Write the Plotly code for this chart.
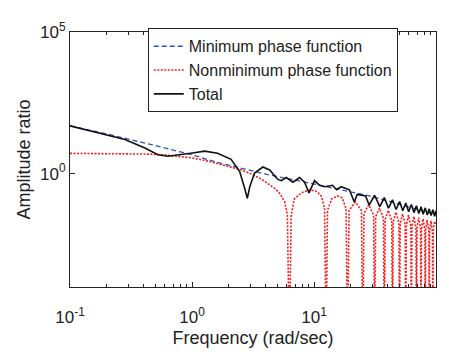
import plotly.graph_objects as go

# ---------------- data ----------------
min_w = [0.1, 0.2, 0.5, 1.0, 1.62, 2.54, 4.16, 9.8, 19.5, 28.5, 50, 100]
min_amp = [48.7, 25.3, 9.8, 4.65, 2.49, 1.53, 0.93, 0.44, 0.238, 0.164, 0.083, 0.0353]

non_w = [0.1, 0.2, 0.3, 0.45, 0.6, 0.8, 1.0, 1.3, 1.62, 2.0, 2.54, 3.1, 3.71, 4.76, 5.3, 5.75, 6.05, 6.28, 6.5, 6.9,
         7.86, 9.2, 10.5, 11.5, 12.2, 12.57, 12.9, 14.0, 15.5, 17.0, 18.3, 18.85, 19.4, 21.8, 24.5, 25.13, 25.7,
         28.1, 30.8, 31.42, 32.0, 34.4, 37.1, 37.7, 38.3, 40.6, 43.4, 43.98, 44.6, 46.9, 49.7, 50.27, 50.9,
         53.2, 55.9, 56.55, 57.2, 59.5, 62.2, 62.83, 63.5, 65.8, 68.5, 69.12, 69.8, 72.1, 74.8, 75.4, 76.0,
         78.3, 81.1, 81.68, 82.3, 84.6, 87.4, 87.96, 88.6, 90.9, 93.6, 94.25, 94.9, 97.2, 100]
non_amp = [5.2, 5.15, 5.1, 4.9, 4.6, 4.1, 3.6, 2.9, 2.21, 1.75, 1.35, 0.95, 0.64, 0.305, 0.19, 0.10, 0.035, 1e-6, 0.035, 0.128,
           0.21, 0.268, 0.24, 0.16, 0.06, 1e-6, 0.05, 0.13, 0.164, 0.14, 0.06, 1e-6, 0.05, 0.10, 0.05, 1e-6, 0.04,
           0.08, 0.035, 1e-6, 0.03, 0.061, 0.027, 1e-6, 0.024, 0.051, 0.022, 1e-6, 0.02, 0.044, 0.018, 1e-6, 0.017,
           0.038, 0.016, 1e-6, 0.015, 0.034, 0.014, 1e-6, 0.013, 0.031, 0.012, 1e-6, 0.012, 0.028, 0.011, 1e-6, 0.011,
           0.0255, 0.010, 1e-6, 0.010, 0.0235, 0.009, 1e-6, 0.009, 0.0218, 0.0085, 1e-6, 0.0085, 0.0202, 0.017]

tot_w = [0.1, 0.2, 0.282, 0.411, 0.525, 0.635, 0.82, 1.01, 1.27, 1.62, 2.09, 2.46, 2.7, 2.84, 2.98, 3.26, 3.81,
         4.33, 5.03, 5.39, 5.93, 6.72, 7.62, 8.37, 9.1, 9.8, 10.1, 11.1, 12.2, 14.2, 15.3, 16.7, 19.5, 21.4, 22.6,
         26.5, 28.3, 31.4, 34.6, 37.7, 40.8, 44.0, 47.1, 50.3, 53.4, 56.5, 59.7, 62.8, 66.0, 69.1, 72.3, 75.4,
         78.5, 81.7, 84.8, 88.0, 91.1, 94.2, 97.4, 100]
tot_amp = [48.7, 23.3, 16.0, 8.0, 4.65, 4.1, 4.65, 5.4, 6.26, 5.24, 3.21, 1.19, 0.305, 0.135, 0.353, 1.05, 1.72,
           1.35, 0.64, 0.565, 0.73, 0.50, 0.73, 0.50, 0.21, 0.44, 0.565, 0.39, 0.346, 0.39, 0.27, 0.346, 0.27, 0.10, 0.185,
           0.164, 0.078, 0.173, 0.0685, 0.143, 0.0604, 0.120, 0.0543, 0.104, 0.0494, 0.092, 0.0455, 0.082, 0.0422, 0.0743, 0.0395, 0.0675,
           0.0370, 0.0622, 0.0348, 0.0573, 0.0330, 0.0532, 0.0314, 0.0497]

x_tick_vals = [0.1, 1, 10, 100]
x_tick_text = ["10<sup>-1</sup>", "10<sup>0</sup>", "10<sup>1</sup>", "10<sup>2</sup>"]
y_tick_vals = [1, 1e5]
y_tick_text = ["10<sup>0</sup>", "10<sup>5</sup>"]

# ---------------- figure ----------------
FONT = "Liberation Sans, Arial, sans-serif"
INK = "#222222"
fig = go.Figure()
fig.add_trace(go.Scatter(x=non_w, y=non_amp, mode="lines", name="Nonminimum phase function",
                         line=dict(color="#FF1A1A", width=1.6, dash="2px,1.5px"), legendrank=2))
fig.add_trace(go.Scatter(x=min_w, y=min_amp, mode="lines", name="Minimum phase function",
                         line=dict(color="#3352B5", width=1.3, dash="5px,3px"), legendrank=1))
fig.add_trace(go.Scatter(x=tot_w, y=tot_amp, mode="lines", name="Total",
                         line=dict(color="#111111", width=1.6), legendrank=3))

minor_x = [k * 10.0 ** e for e in (-1, 0, 1) for k in range(2, 10)]

# page body has an 8px margin, so the figure is sized 8px smaller and margins shifted
fig.update_layout(
    width=441, height=348,
    margin=dict(l=62, r=12, t=16, b=54),
    paper_bgcolor="white", plot_bgcolor="white",
    font=dict(family=FONT, size=18, color=INK),
    showlegend=True,
    legend=dict(x=0.2125, y=1.0144, xanchor="left", yanchor="top",
                bgcolor="white", bordercolor=INK, borderwidth=1,
                font=dict(size=16, family=FONT, color=INK), tracegroupgap=0,
                itemwidth=30),
    xaxis=dict(type="log", range=[-1, 2], showgrid=False, zeroline=False,
               showline=True, linecolor=INK, linewidth=1, mirror="ticks",
               ticks="inside", ticklen=5, tickcolor=INK,
               tickmode="array", tickvals=x_tick_vals, ticktext=x_tick_text,
               ticklabelstandoff=15,
               minor=dict(tickmode="array", tickvals=minor_x, ticks="inside", ticklen=3, tickcolor=INK),
               title=dict(text="Frequency (rad/sec)", font=dict(size=18), standoff=4),
               tickfont=dict(size=17)),
    yaxis=dict(type="log", range=[-4, 5], showgrid=False, zeroline=False,
               showline=True, linecolor=INK, linewidth=1, mirror="ticks",
               ticks="inside", ticklen=5, tickcolor=INK,
               tickmode="array", tickvals=y_tick_vals, ticktext=y_tick_text,
               title=dict(text="Amplitude ratio", font=dict(size=18), standoff=4),
               tickfont=dict(size=17)),
)

fig.write_html("out.html")
